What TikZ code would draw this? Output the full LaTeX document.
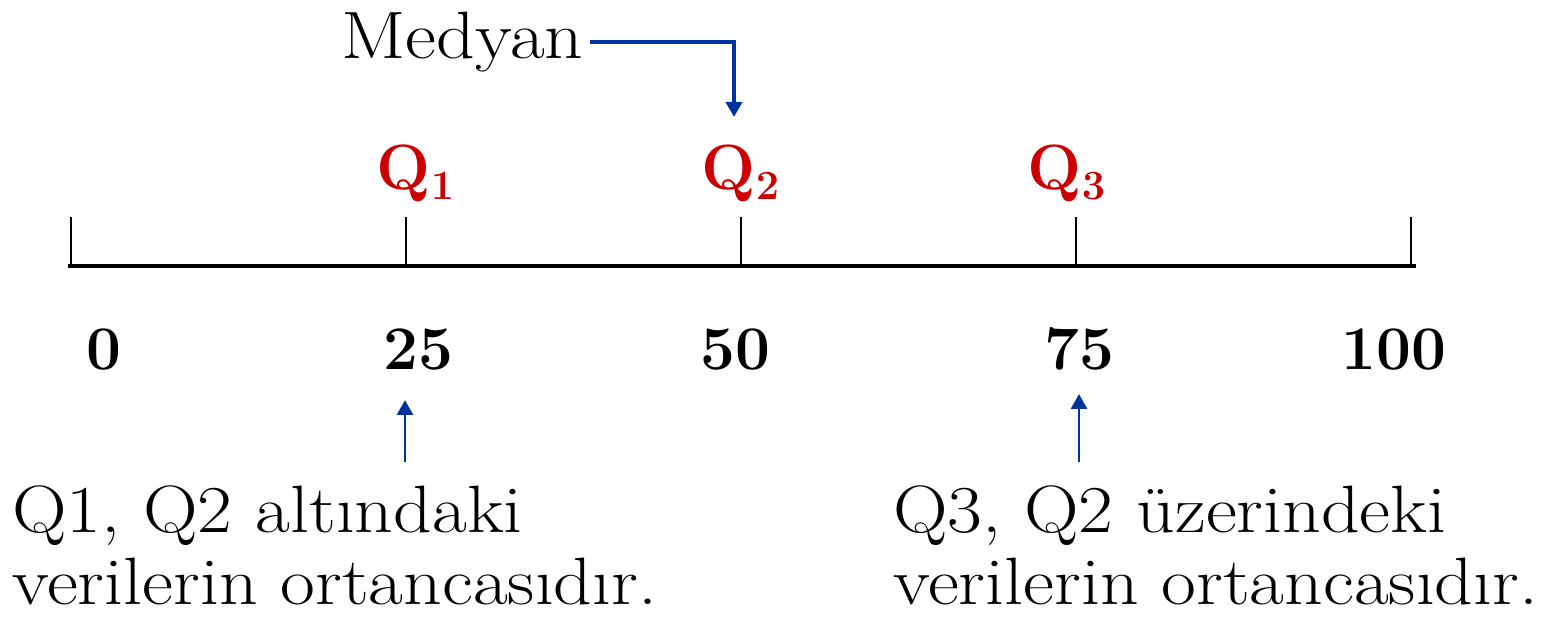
\documentclass[tikz,border=0pt]{standalone}
\usetikzlibrary{arrows.meta}
\usepackage{graphicx}
\definecolor{qred}{HTML}{CC0000}
\definecolor{pblue}{HTML}{0033A0}
% text lines are set a little wider than Latin Modern's natural width
\newcommand{\wide}[1]{\scalebox{1.13}[1]{#1}}
\begin{document}
\begin{tikzpicture}[x=0.5pt,y=-0.5pt,
  axis/.style={line width=1.6pt,black},
  tick/.style={line width=1.3pt,black},
  pointer/.style={pblue,line width=1.4pt,-{Triangle[length=7.5pt,width=8pt]}},
  medpointer/.style={pblue,line width=1.9pt,-{Triangle[length=7.5pt,width=8pt]}},
  num/.style={font=\fontsize{31}{37}\selectfont\bfseries,anchor=base,inner sep=0pt},
  qlabel/.style={font=\fontsize{32}{37}\selectfont\bfseries,text=qred,anchor=base,inner sep=0pt},
  note/.style={font=\fontsize{33.5}{36}\selectfont,anchor=base west,inner sep=0pt,
    align=left,text depth=0pt},
]
\useasboundingbox (0,0) rectangle (1543,619);

% number line
\coordinate (L) at (68,266);
\coordinate (R) at (1416,266);
\draw[axis] (L) -- (R);
\foreach \x/\n in {71/t0,406/t25,741/t50,1076/t75,1411/t100}{
  \coordinate (\n) at (\x,266);
  \draw[tick] (\n) -- ++(0,-49);
}

% scale values
\node[num] (n0)   at (104,370)  {0};
\node[num] (n25)  at (418,370)  {25};
\node[num] (n50)  at (735,370)  {50};
\node[num] (n75)  at (1079,370) {75};
\node[num] (n100) at (1394,370) {100};

% quartile labels
\node[qlabel] (q1) at (416,190)  {Q$_{\mathbf 1}$};
\node[qlabel] (q2) at (741,190)  {Q$_{\mathbf 2}$};
\node[qlabel] (q3) at (1067,190) {Q$_{\mathbf 3}$};

% median callout
\node[font=\fontsize{33.5}{37}\selectfont,anchor=base east,inner sep=0pt] (med) at (584,59) {\wide{Medyan}};
\coordinate (medtip) at (734,117);
\draw[medpointer] (med.east |- 0,42) ++(6,0) -| (medtip);

% notes below the line
\node[note] (c1) at (12,605) {\wide{Q1, Q2 altındaki}\\\wide{verilerin ortancasıdır.}};
\node[note] (c3) at (893,605) {\wide{Q3, Q2 üzerindeki}\\\wide{verilerin ortancasıdır.}};
\coordinate (a1) at (405,462);
\coordinate (a3) at (1079,462);
\draw[pointer] (a1) -- ++(0,-62);
\draw[pointer] (a3) -- ++(0,-68);
\end{tikzpicture}
\end{document}
